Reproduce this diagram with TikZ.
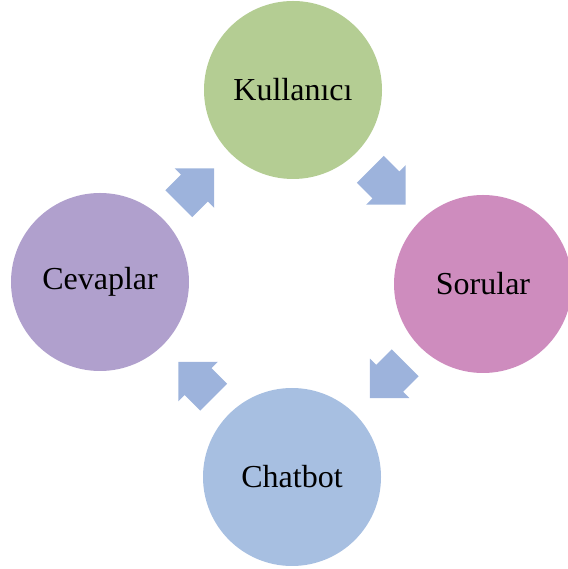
\documentclass[tikz,border=0pt]{standalone}
\usepackage{fontspec}
\setmainfont{Liberation Serif}
\usetikzlibrary{calc}
\definecolor{kulgreen}{HTML}{B4CD93}
\definecolor{sorpink}{HTML}{CE8CBE}
\definecolor{chatblue}{HTML}{A7BFE1}
\definecolor{cevpurple}{HTML}{B0A0CD}
\definecolor{arrowblue}{HTML}{9DB3DC}
\begin{document}
\begin{tikzpicture}[x=1pt, y=1pt,
    stage/.style = {circle, minimum size=178pt, inner sep=0pt, font=\fontsize{32}{38}\selectfont},
    blockarrow/.pic = {\fill[arrowblue] (-25, -19) -- (-3, -19) -- (-3, -28) -- (25, 0) -- (-3, 28) -- (-3, 19) -- (-25, 19) -- cycle;}]
      \useasboundingbox (0, 0) rectangle (567, 569);
      \node[stage, fill = kulgreen] (kul) at (293, 479) {Kullanıcı};
      \node[stage, fill = sorpink] (sor) at (483, 285) {Sorular};
      \node[stage, fill = chatblue] (chat) at (292, 92) {Chatbot};
      \node[stage, fill = cevpurple] (cev) at (100, 287) {Cevaplar};
      \pic[rotate = -45] at ($(kul)!0.5!(sor)$) {blockarrow};
      \pic[rotate = -135] at ($(sor)!0.5!(chat)$) {blockarrow};
      \pic[rotate = 135] at ($(chat)!0.5!(cev)$) {blockarrow};
      \pic[rotate = 45] at ($(cev)!0.5!(kul)$) {blockarrow};
    \end{tikzpicture}
\end{document}
